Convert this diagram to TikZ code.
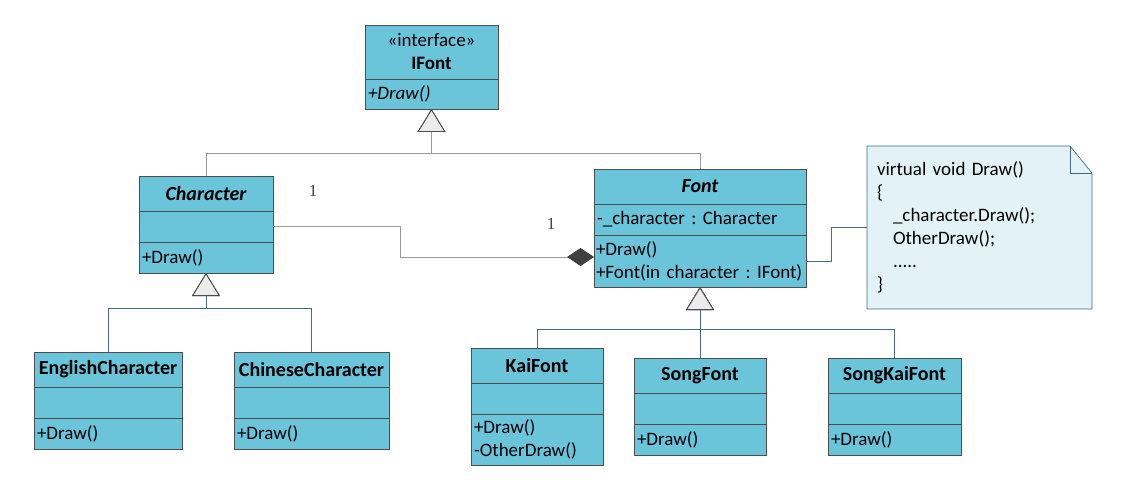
\documentclass[tikz,border=0pt]{standalone}
\usepackage{fontspec}
\setmainfont{Carlito}
\newfontfamily\multfont{Liberation Serif}
\usetikzlibrary{positioning,arrows.meta,backgrounds}
\definecolor{classblue}{HTML}{6AC4DA}
\definecolor{boxgray}{HTML}{4D4D4D}
\definecolor{linegray}{HTML}{9A9A9A}
\definecolor{linkteal}{HTML}{466C79}
\definecolor{trifill}{HTML}{ECECEC}
\definecolor{diamgray}{HTML}{404040}
\definecolor{notefill}{HTML}{E2F2F7}
\tikzset{
    umlpart/.style={draw=boxgray, fill=classblue, line width=0.9pt, inner sep=0pt, outer sep=0pt, text=black},
    umltitle/.style={umlpart, minimum width=#1, minimum height=35pt, font=\fontsize{20}{23}\selectfont\bfseries},
    umlattr/.style={umlpart, text width=#1, minimum height=31pt, inner xsep=3pt, align=left},
    umlline/.style={draw=linegray, line width=0.8pt},
    genlink/.style={draw=linkteal, line width=0.7pt},
    genarrow/.style={-{Triangle[open, fill=trifill, color=boxgray, length=23pt, width=28pt, line width=0.9pt]}},
    comparrow/.style={-{Diamond[fill=diamgray, color=diamgray, length=27pt, width=18pt]}},
    notebox/.style={minimum width=225pt, minimum height=163pt, text width=205pt, inner xsep=10pt, inner ysep=0pt, align=left, outer sep=0pt},
    noteline/.style={draw=linkteal, line width=0.7pt},
    multlabel/.style={font=\multfont\fontsize{17}{20}\selectfont, text=black!75},
}
\begin{document}
\begin{tikzpicture}[x=1pt,y=-1pt]
    \fontsize{19}{23}\selectfont\frenchspacing
    \useasboundingbox (0,0) rectangle (1134,497);
    % interface
    \node[umltitle=133pt, anchor=north, minimum height=54pt, font=\normalfont, align=center] (ifont) at (431.5,25) {«interface»\\\textbf{IFont}};
    \node[umlattr=127pt, minimum height=30pt, below=0pt of ifont, font=\itshape] (ifont-o) {+Draw()};
    % abstract classes
    \node[umltitle=134pt, anchor=north, font=\fontsize{20}{23}\selectfont\bfseries\itshape] (char) at (206,176) {Character};
    \node[umlattr=128pt, below=0pt of char] (char-a) {};
    \node[umlattr=128pt, below=0pt of char-a] (char-o) {+Draw()};
    \node[umltitle=212pt, anchor=north, font=\fontsize{20}{23}\selectfont\bfseries\itshape] (font) at (700,169) {Font};
    \node[umlattr=206pt, below=0pt of font] (font-a) {-\_character : Character};
    \node[umlattr=208pt, inner xsep=2pt, minimum height=52pt, below=0pt of font-a] (font-o) {+Draw()\\\mbox{+Font(in character : IFont)}};
    % concrete characters
    \node[umltitle=148pt, anchor=north] (eng) at (108,352) {EnglishCharacter};
    \node[umlattr=142pt, below=0pt of eng] (eng-a) {};
    \node[umlattr=142pt, below=0pt of eng-a] (eng-o) {+Draw()};
    \node[umltitle=155pt, anchor=north] (chn) at (311.5,352) {ChineseCharacter};
    \node[umlattr=149pt, below=0pt of chn] (chn-a) {};
    \node[umlattr=149pt, below=0pt of chn-a] (chn-o) {+Draw()};
    % concrete fonts
    \node[umltitle=132pt, anchor=north] (kai) at (537,348) {KaiFont};
    \node[umlattr=126pt, below=0pt of kai] (kai-a) {};
    \node[umlattr=126pt, minimum height=51pt, below=0pt of kai-a] (kai-o) {+Draw()\\-OtherDraw()};
    \node[umltitle=132pt, anchor=north] (song) at (700,358) {SongFont};
    \node[umlattr=126pt, below=0pt of song] (song-a) {};
    \node[umlattr=126pt, below=0pt of song-a] (song-o) {+Draw()};
    \node[umltitle=133pt, anchor=north] (songkai) at (894.5,358) {SongKaiFont};
    \node[umlattr=127pt, below=0pt of songkai] (songkai-a) {};
    \node[umlattr=127pt, below=0pt of songkai-a] (songkai-o) {+Draw()};
    % note
    \node[notebox] (note) at (979.5,227.5) {virtual void Draw()\\\{\\\hspace*{16pt}\_character.Draw();\\\hspace*{16pt}OtherDraw();\\\hspace*{16pt}.....\\\}};
    \begin{scope}[on background layer]
        \filldraw[noteline, fill=notefill] (note.north west) -- ([xshift=-22pt]note.north east) -- ([yshift=-27pt]note.north east) -- (note.south east) -- (note.south west) -- cycle;
    \end{scope}
    \draw[noteline] ([xshift=-22pt]note.north east) -- ++(0,27) -- ++(22,0);
    % generalizations
    \coordinate (ifont-bus) at ([yshift=-44pt]ifont-o.south);
    \coordinate (char-bus) at ([yshift=-35pt]char-o.south);
    \coordinate (font-bus) at ([yshift=-42pt]font-o.south);
    \draw[umlline, genarrow] (char.north) |- (ifont-bus) -- (ifont-o.south);
    \draw[umlline, genarrow] (font.north) |- (ifont-bus) -- (ifont-o.south);
    \draw[genlink, genarrow] (eng.north) |- (char-bus) -- (char-o.south);
    \draw[genlink, genarrow] (chn.north) |- (char-bus) -- (char-o.south);
    \draw[genlink, genarrow] (kai.north) |- (font-bus) -- (font-o.south);
    \draw[genlink, genarrow] (song.north) -- (font-o.south);
    \draw[genlink, genarrow] (songkai.north) |- (font-bus) -- (font-o.south);
    % composition
    \draw[umlline, comparrow] (char-a.east) -- ++(127,0) |- ([yshift=4pt]font-o.west);
    \node[multlabel] (mult-char) at (313,191) {1};
    \node[multlabel] (mult-font) at (551,224) {1};
    \draw[genlink] (font-o.east) -- ++(25,0) |- (note.west);
\end{tikzpicture}
\end{document}
